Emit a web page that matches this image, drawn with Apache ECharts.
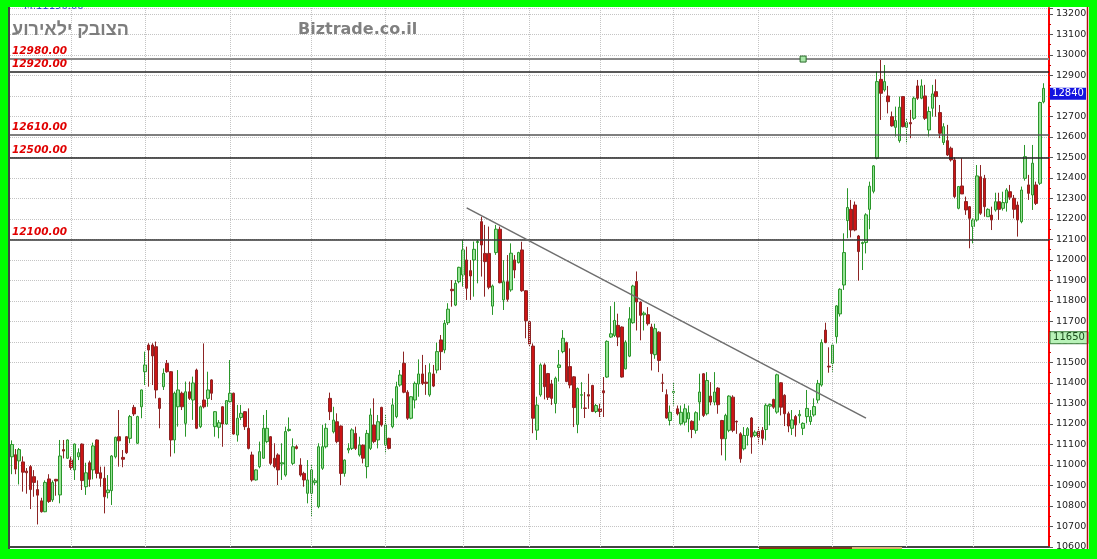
<!DOCTYPE html>
<html><head><meta charset="utf-8">
<script src="https://cdn.jsdelivr.net/npm/echarts@6/dist/echarts.min.js"></script>
<style>html,body{margin:0;padding:0;background:#00ff00;}#c{width:1097px;height:559px;}</style>
</head><body><div id="c"></div>
<script>
// ---- data ----
const opens = [
11040,11050,11020,11015,10970,10992,10943,10880,10825,10772,
10932,10830,10930,10854,11075,11033,11024,10976,11040,11102,
10894,11011,10976,11122,10962,10935,10865,10875,11040,11138,
11037,11138,11130,11281,11106,11284,11455,11585,11585,11577,
11325,11382,11496,11455,11122,11284,11350,11203,11357,11317,
11463,11187,11317,11325,11415,11187,11184,11284,11200,11309,
11350,11146,11232,11260,11179,11049,10927,10992,11033,11114,
11138,11033,11049,11005,10951,11168,11008,11089,11000,10959,
10862,10862,10914,10797,10984,11089,11325,11162,11211,11190,
10959,11073,11081,11154,11049,11097,10992,11081,11195,11122,
11281,11097,11130,11187,11236,11390,11496,11355,11228,11317,
11395,11444,11404,11342,11444,11463,11610,11561,11694,11857,
11780,11894,11927,12000,11948,12000,12085,12187,12032,12032,
11775,12036,12150,11805,11894,11854,12000,11987,12049,11850,
11699,11580,11170,11342,11488,11446,11395,11300,11476,11553,
11597,11480,11430,11197,11340,11278,11343,11388,11261,11274,
11362,11429,11624,11632,11681,11673,11469,11531,11694,11895,
11795,11733,11733,11673,11538,11648,11401,11343,11217,11353,
11274,11201,11209,11225,11213,11169,11307,11445,11250,11336,
11307,11375,11217,11128,11169,11331,11213,11152,11079,11144,
11229,11144,11164,11169,11173,11287,11320,11258,11401,11340,
11250,11179,11236,11240,11179,11236,11212,11244,11317,11390,
11658,11482,11496,11626,11737,11878,12192,12247,12268,12117,
12080,12085,12247,12335,12496,12881,12829,12800,12699,12647,
12582,12797,12647,12670,12691,12849,12789,12800,12634,12740,
12821,12719,12573,12582,12545,12488,12252,12361,12285,12260,
12163,12195,12406,12398,12211,12219,12244,12284,12252,12279,
12333,12301,12268,12187,12398,12366,12317,12366,12374,12771];
const closes = [
11100,10980,11075,10965,10962,10880,10915,10853,10772,10915,
10822,10915,10922,11044,11068,11122,10988,11102,11060,10924,
10962,10930,11093,10959,10935,10845,10878,11044,11135,11118,
11028,11060,11236,11249,11236,11366,11488,11561,11532,11366,
11276,11447,11455,11122,11350,11366,11284,11357,11325,11400,
11179,11284,11284,11366,11350,11260,11206,11200,11314,11350,
11151,11228,11252,11187,11081,10927,10976,11065,11179,11179,
11008,10992,10976,11011,11163,11174,11089,11081,10951,10927,
10927,10976,10923,11089,11089,11179,11260,11219,11114,10959,
11024,11081,11171,11081,11097,11033,11154,11244,11114,11211,
11195,11195,11081,11293,11382,11439,11355,11228,11333,11398,
11444,11398,11398,11450,11385,11553,11553,11691,11760,11850,
11886,11964,12049,11862,11922,12052,12090,12073,11992,11867,
11873,12150,11889,11894,11808,12033,11951,12036,11850,11704,
11590,11228,11292,11488,11382,11330,11325,11423,11488,11618,
11407,11390,11280,11373,11343,11276,11336,11261,11290,11261,
11352,11603,11640,11705,11624,11429,11599,11713,11873,11795,
11730,11741,11689,11543,11665,11510,11398,11229,11257,11359,
11250,11257,11274,11255,11173,11255,11356,11242,11412,11307,
11356,11294,11128,11242,11336,11169,11210,11030,11144,11177,
11136,11160,11136,11130,11291,11295,11282,11440,11282,11250,
11190,11220,11195,11247,11203,11276,11236,11285,11398,11597,
11597,11478,11585,11776,11857,12036,12256,12146,12146,12041,
12085,12220,12360,12459,12870,12813,12870,12772,12654,12680,
12745,12650,12670,12664,12789,12789,12849,12691,12724,12810,
12797,12618,12650,12512,12488,12309,12358,12322,12244,12203,
12195,12410,12228,12260,12247,12195,12284,12247,12280,12341,
12306,12247,12195,12341,12504,12325,12472,12276,12768,12837];
const lows = [
10955,10955,10905,10870,10860,10785,10845,10710,10768,10770,
10815,10820,10850,10813,11032,11030,10976,10927,11024,10878,
10854,10894,10930,10935,10894,10764,10837,10805,11032,10992,
10989,11054,11106,11239,11102,11228,11390,11382,11390,11325,
11179,11366,11450,11041,11057,11187,11268,11138,11317,11220,
11175,11180,11276,11284,11317,11138,11130,11089,11196,11305,
11148,11114,11219,11171,11076,10919,10924,10984,11030,11106,
11000,10984,10902,10927,10943,11163,11000,11076,10943,10894,
10813,10748,10902,10789,10976,11081,11219,11154,11106,10902,
10943,11057,11073,11073,11041,11008,10935,11073,11106,11081,
11187,11057,11076,11179,11228,11382,11350,11220,11223,11276,
11333,11390,11342,11333,11380,11447,11463,11545,11683,11772,
11775,11886,11870,11805,11805,11821,11886,11919,11821,11857,
11732,12025,11886,11756,11797,11845,11911,11983,11845,11618,
11577,11155,11122,11333,11320,11317,11293,11252,11407,11545,
11404,11374,11185,11155,11274,11229,11274,11258,11253,11234,
11234,11425,11620,11624,11580,11426,11466,11526,11689,11656,
11608,11656,11680,11461,11518,11453,11356,11226,11193,11290,
11242,11193,11193,11160,11131,11153,11217,11234,11242,11291,
11291,11250,11047,11022,11160,11160,11152,11011,11071,11095,
11055,11136,11104,11097,11120,11193,11274,11250,11242,11190,
11160,11146,11138,11203,11146,11203,11195,11236,11301,11382,
11594,11450,11455,11593,11724,11854,12106,12110,12140,11899,
11951,12032,12150,12325,12491,12683,12821,12715,12650,12602,
12572,12647,12569,12594,12683,12781,12784,12683,12602,12699,
12699,12594,12561,12507,12480,12301,12247,12322,12220,12057,
12081,12187,12220,12211,12211,12146,12236,12195,12241,12236,
12293,12203,12114,12179,12387,12293,12244,12268,12366,12764];
const highs = [
11120,11078,11083,11042,10985,11000,10975,10925,10840,10925,
10955,10925,10932,11122,11122,11125,11041,11105,11081,11105,
11011,11021,11109,11125,10992,10992,10951,11048,11138,11268,
11073,11140,11244,11293,11240,11368,11553,11594,11594,11602,
11328,11471,11512,11458,11358,11463,11358,11407,11407,11431,
11470,11290,11593,11455,11418,11263,11219,11287,11317,11512,
11353,11293,11293,11263,11276,11065,10979,11114,11244,11268,
11141,11106,11057,11106,11187,11232,11130,11097,11033,10967,
11024,11000,10935,11106,11195,11203,11353,11284,11252,11193,
11027,11106,11179,11187,11138,11100,11171,11276,11325,11244,
11284,11244,11133,11325,11406,11463,11553,11365,11336,11407,
11515,11537,11488,11496,11488,11597,11634,11707,11789,11902,
11902,11967,12098,12065,12000,12090,12098,12211,12171,12163,
11880,12171,12163,11999,12024,12081,12024,12040,12089,11853,
11704,11593,11333,11496,11496,11449,11415,11431,11561,11658,
11602,11569,11433,11378,11404,11356,11445,11391,11298,11299,
11429,11608,11775,11795,11738,11676,11608,11770,11879,11944,
11798,11749,11770,11689,11689,11652,11445,11369,11290,11401,
11290,11290,11298,11290,11218,11262,11445,11448,11453,11404,
11453,11380,11220,11250,11340,11340,11217,11160,11185,11185,
11234,11169,11185,11185,11300,11300,11323,11445,11404,11345,
11260,11268,11244,11268,11208,11366,11268,11325,11415,11613,
11694,11574,11593,11780,11862,12130,12350,12293,12285,12122,
12090,12228,12382,12463,12919,12979,12951,12849,12724,12748,
12797,12800,12691,12732,12797,12878,12881,12854,12748,12854,
12881,12756,12667,12659,12553,12501,12361,12496,12309,12263,
12203,12463,12463,12415,12252,12260,12328,12328,12333,12350,
12366,12317,12285,12358,12561,12415,12561,12382,12772,12862];
const levels = [12980, 12920, 12610, 12500, 12100];
const levelLabels = ['12980.00', '12920.00', '12610.00', '12500.00', '12100.00'];
const trendStart = [123.1, 12254];
const trendEnd = [231, 11229];
const monthStarts = [16, 36, 59, 81, 101, 122, 140, 159, 179, 202, 222, 242, 260];
const markerPoint = [214, 12980];
const lastPrice = 12840;
const refPrice = 11650;
const yTicks = {min: 10600, max: 13229, step: 100};
const slotCount = 281;
const titleHe = 'עוריאלי קבוצה';
const titleSite = 'Biztrade.co.il';
const topNote = 'M:11150.00';
// ----
const categories = [];
for (let i = 0; i < slotCount; i++) categories.push('d' + i);
const ohlc = opens.map((o, i) => [o, closes[i], lows[i], highs[i]]);

const levelStyles = [
  {color: '#8a8a8a', width: 2},
  {color: '#222', width: 1.5},
  {color: '#555', width: 1.5},
  {color: '#222', width: 1.5},
  {color: '#333', width: 1.5}
];

const chart = echarts.init(document.getElementById('c'));
const option = {
  animation: false,
  backgroundColor: '#ffffff',
  grid: {left: 10, right: 48, top: 8, bottom: 12},
  xAxis: {
    type: 'category', data: categories, boundaryGap: true,
    axisLine: {show: true, lineStyle: {color: '#444', width: 2}},
    axisTick: {show: false}, axisLabel: {show: false}, splitLine: {show: false}
  },
  yAxis: {
    type: 'value', position: 'right', min: yTicks.min, max: yTicks.max, interval: yTicks.step,
    axisLine: {show: true, lineStyle: {color: '#ff0000', width: 2}},
    axisTick: {show: true, length: 4, lineStyle: {color: '#555'}},
    minorTick: {show: true, splitNumber: 2, length: 2, lineStyle: {color: '#cc0000'}},
    axisLabel: {color: '#222', fontSize: 9.5, fontFamily: 'DejaVu Sans', margin: 7,
      formatter: v => (Math.round(v) % 100 === 0 ? String(Math.round(v)) : '')},
    splitLine: {show: true, lineStyle: {color: '#c4c4c4', type: 'dotted', width: 1}}
  },
  series: [
    {
      type: 'line', data: [], z: 1, silent: true,
      markLine: {
        silent: true, symbol: 'none', animation: false,
        label: {show: false},
        lineStyle: {color: '#c4c4c4', type: 'dotted', width: 1},
        data: monthStarts.map(i => ({xAxis: i}))
      }
    },
    {
      type: 'candlestick', z: 3, data: ohlc, barWidth: 3,
      itemStyle: {color: '#96e396', color0: '#cc1414', borderColor: '#2a962a', borderColor0: '#8c2424', borderWidth: 1},
      markLine: {
        silent: true, symbol: 'none', animation: false,
        data: levels.map((lv, k) => ({
          yAxis: lv,
          lineStyle: Object.assign({type: 'solid'}, levelStyles[k]),
          label: {show: true, position: 'insideStartTop', distance: [2, 2], formatter: levelLabels[k],
            color: '#e00000', fontStyle: 'italic', fontWeight: 'bold', fontSize: 10.5, fontFamily: 'DejaVu Sans'}
        })).concat([[
          {coord: trendStart, symbol: 'none', lineStyle: {color: '#6e6e6e', width: 1.5, type: 'solid'}, label: {show: false}},
          {coord: trendEnd, symbol: 'none'}
        ]])
      },
      markPoint: {
        silent: true, animation: false,
        data: [{coord: markerPoint, symbol: 'rect', symbolSize: 6,
          itemStyle: {color: '#a6e6a6', borderColor: '#2a6a2a', borderWidth: 1}, label: {show: false}}]
      }
    }
  ]
};
chart.setOption(option);

const yB = chart.convertToPixel({yAxisIndex: 0}, lastPrice);
const yG = chart.convertToPixel({yAxisIndex: 0}, refPrice);
chart.setOption({
  graphic: [
    {type: 'text', left: 24, top: 1, z: 50, style: {text: topNote, fill: '#3344cc', font: '10px "DejaVu Sans"'}},
    {type: 'text', left: 12, top: 21, z: 50, style: {text: '\u202D' + titleHe + '\u202C', fill: '#7d7d7d', font: 'bold 18px "Liberation Sans"'}},
    {type: 'text', left: 298, top: 22, z: 50, style: {text: titleSite, fill: '#808080', font: 'bold 16px "DejaVu Sans"'}},
    {type: 'rect', z: 60, shape: {x: 1050, y: yB, width: 36, height: 12}, style: {fill: '#1414e0'}},
    {type: 'text', z: 61, x: 1068, y: yB + 6, style: {text: String(lastPrice), fill: '#ffffff', font: '10px "DejaVu Sans"', textAlign: 'center', textVerticalAlign: 'middle'}},
    {type: 'rect', z: 60, shape: {x: 1050, y: yG, width: 38, height: 12}, style: {fill: '#b8f2b8', stroke: '#3a7a3a', lineWidth: 1}},
    {type: 'text', z: 61, x: 1069, y: yG + 6, style: {text: String(refPrice), fill: '#1a4a1a', font: '10px "DejaVu Sans"', textAlign: 'center', textVerticalAlign: 'middle'}},
    {type: 'line', z: 70, shape: {x1: 759, y1: 548, x2: 852, y2: 548}, style: {stroke: '#7a3a1a', lineWidth: 2}},
    {type: 'line', z: 70, shape: {x1: 852, y1: 548, x2: 902, y2: 548}, style: {stroke: '#d8b070', lineWidth: 2}},
    {type: 'line', z: 80, shape: {x1: 9, y1: 6, x2: 9, y2: 550}, style: {stroke: '#444', lineWidth: 2}},
    {type: 'line', z: 80, shape: {x1: 1087.5, y1: 6, x2: 1087.5, y2: 550}, style: {stroke: '#b01010', lineWidth: 1.5}},
    {type: 'rect', z: 90, shape: {x: 0, y: 0, width: 1097, height: 7}, style: {fill: '#00ff00'}},
    {type: 'rect', z: 90, shape: {x: 0, y: 549, width: 1097, height: 10}, style: {fill: '#00ff00'}},
    {type: 'rect', z: 90, shape: {x: 0, y: 0, width: 8, height: 559}, style: {fill: '#00ff00'}},
    {type: 'rect', z: 90, shape: {x: 1089, y: 0, width: 8, height: 559}, style: {fill: '#00ff00'}}
  ]
});
</script></body></html>
